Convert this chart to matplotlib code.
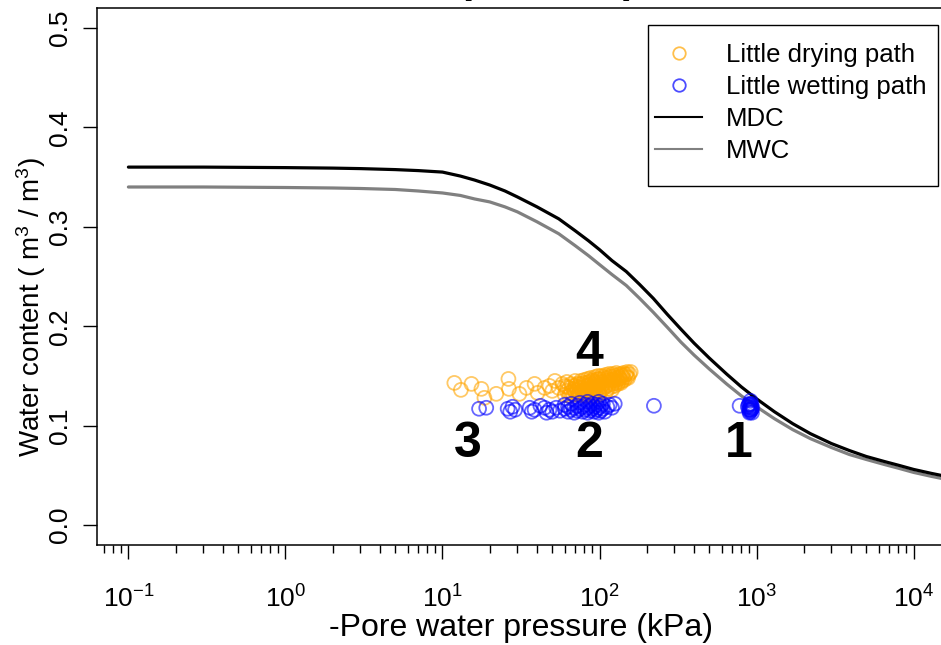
import matplotlib
matplotlib.use('Agg')
import matplotlib.pyplot as plt
from matplotlib.lines import Line2D
from matplotlib.patches import Rectangle
from matplotlib.ticker import LogLocator, LogFormatterSciNotation, NullFormatter

plt.rcParams['font.family'] = ['Liberation Sans', 'DejaVu Sans']
plt.rcParams['mathtext.fontset'] = 'custom'
plt.rcParams['mathtext.rm'] = 'Liberation Sans'
plt.rcParams['mathtext.it'] = 'Liberation Sans:italic'

# Main drying / wetting curves (kPa, m3/m3)
curve_kpa = [0.1, 0.3, 1, 2, 3, 5, 7, 10, 13, 16, 20, 25, 30, 40, 55, 70, 85, 100, 120, 148, 180,
             220, 270, 330, 400, 500, 644, 800, 1000, 1300, 1700, 2200, 3000, 3900, 5000, 6500,
             8100, 10000, 13000, 15000]
mdc_theta = [0.360, 0.360, 0.3595, 0.359, 0.3585, 0.3575, 0.3565, 0.355, 0.351, 0.347, 0.342,
             0.336, 0.330, 0.320, 0.308, 0.296, 0.286, 0.277, 0.266, 0.255, 0.242, 0.228, 0.212,
             0.197, 0.183, 0.168, 0.152, 0.139, 0.127, 0.114, 0.102, 0.092, 0.082, 0.075, 0.069,
             0.064, 0.060, 0.056, 0.052, 0.050]
mwc_theta = [0.340, 0.340, 0.3395, 0.339, 0.3385, 0.3375, 0.336, 0.334, 0.3315, 0.328, 0.325,
             0.320, 0.315, 0.305, 0.293, 0.281, 0.271, 0.262, 0.252, 0.241, 0.228, 0.214, 0.199,
             0.184, 0.171, 0.157, 0.142, 0.130, 0.119, 0.107, 0.096, 0.087, 0.078, 0.071, 0.066,
             0.061, 0.057, 0.053, 0.049, 0.047]

# Little drying path points
dry_kpa = [11.9, 13.1, 15.3, 17.7, 18.5, 22.0, 26.3, 26.5, 30.9, 34.3, 38.6, 40.3, 44.7, 48, 50, 52, 55, 58,
           60, 60, 62, 62, 64, 64, 66, 66, 68, 68, 70, 70, 70, 72, 72, 74, 74, 76, 76, 76, 78, 78,
           80, 80, 80, 80, 82, 82, 84, 84, 84, 86, 86, 88, 88, 88, 90, 90, 90, 90, 92, 92, 94, 94, 94,
           96, 96, 98, 98, 98, 100, 100, 100, 100, 103, 103, 103, 106, 106, 109, 109, 109, 110, 112, 112,
           115, 115, 115, 118, 118, 120, 121, 121, 121, 124, 124, 127, 127, 130, 130, 133, 133, 136, 136,
           139, 139, 142, 142, 146, 150, 150, 155,
           62, 65, 67, 69, 71, 73, 75, 77, 79, 81, 83, 85, 87, 89, 91, 93, 95, 97, 99, 101, 104, 107,
           110, 113, 116, 119, 122, 125, 128, 131, 134, 137, 140, 144, 148, 152, 158]
dry_theta = [0.143, 0.136, 0.142, 0.137, 0.128, 0.132, 0.147, 0.137, 0.132, 0.138, 0.142, 0.133, 0.138, 0.140, 0.135, 0.145, 0.138, 0.142,
             0.131, 0.140, 0.135, 0.144, 0.130, 0.138, 0.134, 0.142, 0.137, 0.131, 0.140, 0.134, 0.145, 0.136, 0.142, 0.133, 0.139, 0.138, 0.145, 0.131, 0.135, 0.141,
             0.139, 0.146, 0.133, 0.130, 0.136, 0.143, 0.140, 0.134, 0.147, 0.138, 0.144, 0.136, 0.142, 0.148, 0.139, 0.145, 0.133, 0.129, 0.141, 0.137, 0.144, 0.138, 0.149,
             0.140, 0.146, 0.137, 0.143, 0.150, 0.141, 0.147, 0.135, 0.131, 0.144, 0.139, 0.150, 0.142, 0.147, 0.145, 0.139, 0.151, 0.134, 0.143, 0.148,
             0.146, 0.141, 0.152, 0.144, 0.149, 0.136, 0.147, 0.142, 0.152, 0.145, 0.150, 0.148, 0.143, 0.146, 0.151, 0.149, 0.144, 0.147, 0.152,
             0.150, 0.145, 0.148, 0.153, 0.151, 0.149, 0.154, 0.152,
             0.139, 0.133, 0.140, 0.136, 0.138, 0.131, 0.142, 0.135, 0.143, 0.137, 0.130, 0.141, 0.135, 0.146, 0.131, 0.143, 0.135, 0.147, 0.132, 0.144, 0.136, 0.149,
             0.140, 0.137, 0.150, 0.139, 0.146, 0.140, 0.153, 0.142, 0.148, 0.143, 0.151, 0.146, 0.152, 0.148, 0.154]

# Little wetting path points
wet_kpa = [17.1, 19.0, 26.0, 27.0, 27.9, 29.0, 35.9, 37.0, 38.6, 42.0, 44.7, 46.0, 48, 50, 53, 56,
           60, 60, 63, 63, 66, 66, 69, 69, 72, 72, 75, 75, 78, 78, 81, 81, 84, 84, 84, 87, 87, 90, 90,
           93, 93, 96, 96, 99, 99, 99, 102, 102, 105, 105, 108, 112, 116, 120, 125,
           222, 780, 880, 895, 900, 905, 910, 915, 920, 925, 930, 935,
           890, 908, 912, 918, 922, 928, 940, 902]
wet_theta = [0.117, 0.118, 0.117, 0.114, 0.119, 0.116, 0.118, 0.114, 0.116, 0.120, 0.118, 0.113, 0.116, 0.114, 0.118, 0.115,
             0.117, 0.121, 0.114, 0.119, 0.116, 0.122, 0.113, 0.118, 0.115, 0.120, 0.117, 0.123, 0.114, 0.119, 0.116, 0.121, 0.113, 0.118, 0.124, 0.115, 0.120, 0.117, 0.122,
             0.114, 0.119, 0.116, 0.121, 0.113, 0.118, 0.124, 0.115, 0.120, 0.117, 0.122, 0.114, 0.119, 0.121, 0.118, 0.122,
             0.120, 0.120, 0.119, 0.116, 0.122, 0.114, 0.118, 0.125, 0.115, 0.120, 0.117, 0.113,
             0.121, 0.116, 0.121, 0.119, 0.116, 0.122, 0.118, 0.113]

# Numbered labels (kPa, theta, text)
note_kpa = [768, 86.3, 14.4, 86.3]
note_theta = [0.082, 0.082, 0.082, 0.173]
note_text = ['1', '2', '3', '4']

fig = plt.figure(figsize=(9.41, 6.45), dpi=100)
ax = fig.add_axes([97 / 941, 100 / 645, 848 / 941, 537 / 645])

ax.plot(curve_kpa, mdc_theta, color='black', lw=2.3, solid_capstyle='round', zorder=3)
ax.plot(curve_kpa, mwc_theta, color='#808080', lw=2.3, solid_capstyle='round', zorder=2)

ax.scatter(dry_kpa, dry_theta, s=100, facecolors='none', edgecolors='orange', linewidths=1.3, alpha=0.6, zorder=4)
ax.scatter(wet_kpa, wet_theta, s=100, facecolors='none', edgecolors='blue', linewidths=1.3, alpha=0.6, zorder=4)

for xk, yt, t in zip(note_kpa, note_theta, note_text):
    ax.text(xk, yt, t, fontsize=36, fontweight='bold', ha='center', va='center', zorder=5)

ax.set_xscale('log')
ax.set_xlim(10 ** -1.2, 10 ** 4.2)
ax.set_ylim(-0.02, 0.52)

ax.xaxis.set_major_locator(LogLocator(base=10, numticks=10))
ax.xaxis.set_major_formatter(LogFormatterSciNotation())
ax.xaxis.set_minor_locator(LogLocator(base=10, subs=range(2, 10), numticks=20))
ax.xaxis.set_minor_formatter(NullFormatter())
ax.set_yticks([0.0, 0.1, 0.2, 0.3, 0.4, 0.5])
ax.set_yticklabels(['0.0', '0.1', '0.2', '0.3', '0.4', '0.5'], rotation=90, va='center')

ax.tick_params(which='major', direction='out', length=10, width=1, labelsize=19)
ax.tick_params(which='minor', direction='out', length=6, width=1)
ax.tick_params(axis='x', which='major', pad=19)
ax.tick_params(axis='y', which='major', pad=8)
for s in ax.spines.values():
    s.set_linewidth(1.1)

ax.set_xlabel('-Pore water pressure (kPa)', fontsize=23)
ax.xaxis.set_label_coords(0.5, -0.126)
ax.set_ylabel('Water content ( m$^3$ / m$^3$)', fontsize=20)
ax.yaxis.set_label_coords(-0.058, 0.443)

# title sits mostly above the visible area
fig.text(465 / 941, 1 + 8 / 645, '(', fontsize=30, fontweight='bold', ha='center', va='baseline')
fig.text(630 / 941, 1 + 8 / 645, ')', fontsize=30, fontweight='bold', ha='center', va='baseline')

handles = [
    Line2D([], [], marker='o', ls='none', mfc='none', mec='orange', ms=9, mew=1.3, alpha=0.7),
    Line2D([], [], marker='o', ls='none', mfc='none', mec='blue', ms=9, mew=1.3, alpha=0.7),
    Line2D([], [], color='black', lw=1.5),
    Line2D([], [], color='#808080', lw=1.5),
]
labels = ['Little drying path', 'Little wetting path', 'MDC', 'MWC']
leg = ax.legend(handles, labels, loc='upper left', bbox_to_anchor=(655 / 941, 1 - 43 / 645),
                bbox_transform=fig.transFigure, fontsize=18.5, frameon=False,
                handlelength=1.83, handletextpad=0.93, labelspacing=0.31,
                borderpad=0, borderaxespad=0)
leg.set_zorder(6)
frame = Rectangle((648 / 941, 1 - 186 / 645), 290 / 941, 161 / 645,
                  transform=fig.transFigure, facecolor='white', edgecolor='black',
                  linewidth=1.0, zorder=5.5, clip_on=False)
ax.add_artist(frame)

fig.savefig('out.png', dpi=100)
